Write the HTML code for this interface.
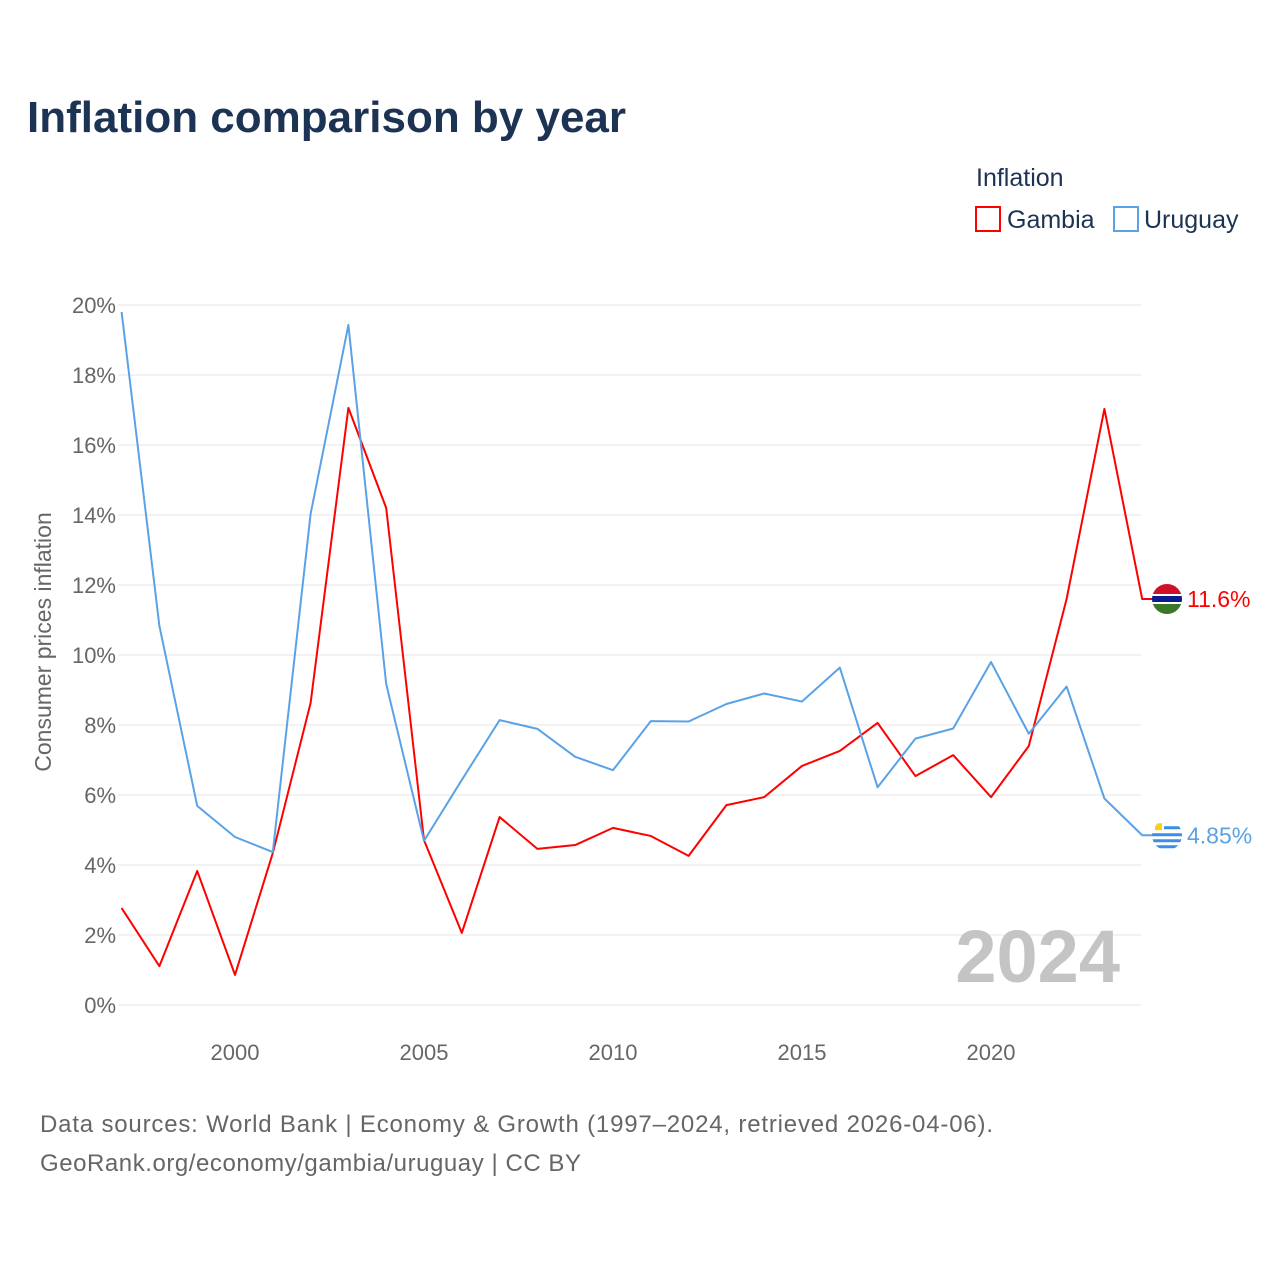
<!DOCTYPE html>
<html><head><meta charset="utf-8"><style>
body{margin:0;background:#fff;font-family:"Liberation Sans",sans-serif}
svg text{font-family:"Liberation Sans",sans-serif}
</style></head><body>
<svg id="c" width="1280" height="1280">
<text x="27" y="132" font-size="44" font-weight="bold" fill="#1c3353">Inflation comparison by year</text>
<text x="976" y="186" font-size="25" fill="#1c3353">Inflation</text>
<g><rect x="976" y="207" width="24" height="24" fill="none" stroke="#f00" stroke-width="2"/><text x="1007" y="228" font-size="25" fill="#1c3353">Gambia</text></g>
<g><rect x="1114" y="207" width="24" height="24" fill="none" stroke="#5aa2e6" stroke-width="2"/><text x="1144" y="228" font-size="25" fill="#1c3353">Uruguay</text></g>
<text transform="translate(51,642) rotate(-90)" text-anchor="middle" font-size="23" fill="#666">Consumer prices inflation</text>
<g id="grid"></g><g id="marks"></g>
<text x="1120" y="982" text-anchor="end" font-size="74" font-weight="bold" fill="#c4c4c4">2024</text>
<text x="40" y="1132" font-size="24" fill="#666" textLength="953">Data sources: World Bank | Economy &amp; Growth (1997–2024, retrieved 2026-04-06).</text>
<text x="40" y="1171" font-size="24" fill="#666" textLength="541">GeoRank.org/economy/gambia/uruguay | CC BY</text>
</svg>
<script>
const years=[1997,1998,1999,2000,2001,2002,2003,2004,2005,2006,2007,2008,2009,2010,2011,2012,2013,2014,2015,2016,2017,2018,2019,2020,2021,2022,2023,2024];
const gambia=[2.77,1.11,3.83,0.86,4.34,8.63,17.06,14.2,4.71,2.06,5.37,4.46,4.57,5.06,4.83,4.26,5.71,5.94,6.83,7.26,8.06,6.54,7.14,5.94,7.4,11.6,17.03,11.6];
const uruguay=[19.8,10.83,5.69,4.8,4.37,14.03,19.43,9.17,4.69,6.43,8.14,7.89,7.09,6.71,8.11,8.1,8.6,8.9,8.67,9.64,6.22,7.61,7.9,9.8,7.75,9.1,5.9,4.85];
const yTicks=[0,2,4,6,8,10,12,14,16,18,20];
const xTicks=[2000,2005,2010,2015,2020];
const NS="http://www.w3.org/2000/svg";
const X=y=>121.6+(y-1997)*37.8, Y=v=>1005-v*35;
function mk(t,a,p){const e=document.createElementNS(NS,t);for(const k in a)e.setAttribute(k,a[k]);p.appendChild(e);return e;}
const grid=document.getElementById('grid'),marks=document.getElementById('marks');
yTicks.forEach(v=>{
 const l=mk('line',{x1:118,x2:1141,y1:Y(v),y2:Y(v),stroke:'#e6e6e6'},grid);
 
 
 const t=mk('text',{x:116,y:Y(v)+8,'text-anchor':'end','font-size':22,fill:'#666'},grid);t.textContent=v+'%';
 
 
});
xTicks.forEach(v=>{
 const t=mk('text',{x:X(v),y:1060,'text-anchor':'middle','font-size':22,fill:'#666'},grid);t.textContent=v;
 
 
});
function series(vals,col,name,lbl,flag){
 const pts=vals.map((v,i)=>X(years[i])+','+Y(v)).join(' ')+' '+(X(2024)+12)+','+Y(vals[vals.length-1]);
 const p=mk('polyline',{points:pts,fill:'none',stroke:col,'stroke-width':2,'stroke-linejoin':'round'},marks);
 
 
 const cy=Y(vals[vals.length-1]),cx=1167;
 const g=mk('g',{},marks);
 
 
 const cp=mk('clipPath',{id:'cp'+name},g);
 mk('circle',{cx:cx,cy:cy,r:15},cp);
 const gg=mk('g',{'clip-path':'url(#cp'+name+')'},g);
 flag.forEach(([c,x0,y0,w,h])=>mk('rect',{x:cx-15+x0,y:cy-15+y0,width:w,height:h,fill:c},gg));
 const t=mk('text',{x:1187,y:cy+8,'font-size':23,fill:col},marks);t.textContent=lbl;
 
 
}
series(gambia,'#f00','gambia',gambia[gambia.length-1]+'%',[['#ce1126',0,0,30,10],['#fff',0,10,30,2],['#0c1c8c',0,12,30,6],['#fff',0,18,30,2],['#3a7728',0,20,30,10]]);
series(uruguay,'#5aa2e6','uruguay',uruguay[uruguay.length-1]+'%',[['#fff',0,0,30,30],['#3a8ee6',12,6,18,3],['#3a8ee6',0,13,30,3],['#3a8ee6',0,19,30,3],['#3a8ee6',0,25,30,3],['#f7d116',3,3,7,7]]);
</script>
</body></html>
